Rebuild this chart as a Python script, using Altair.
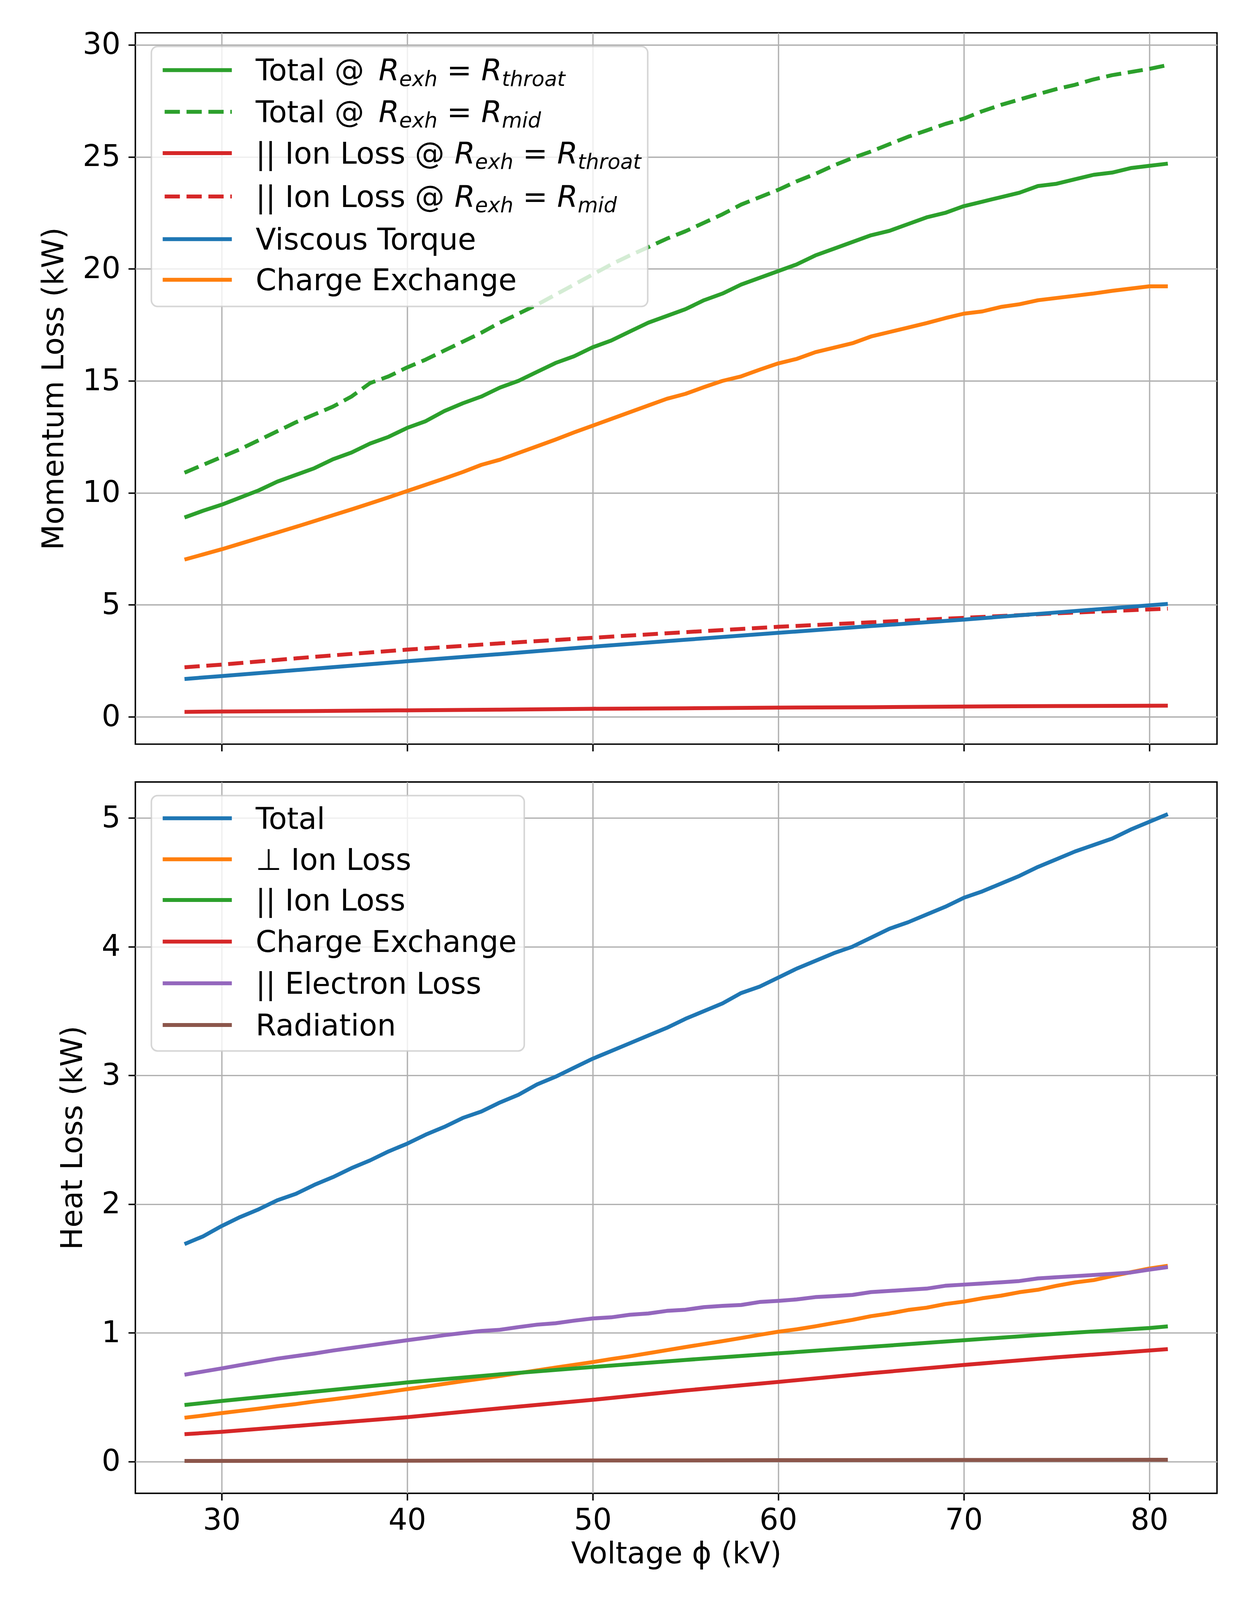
import altair as alt
import pandas as pd

# ---------------- data ----------------
V = list(range(28, 82))

# top panel: momentum loss (kW)
mom_total_throat = [8.9, 9.2, 9.47, 9.79, 10.11, 10.5, 10.8, 11.1, 11.5, 11.8, 12.2, 12.5, 12.9, 13.2,
                    13.65, 14.0, 14.3, 14.7, 15.0, 15.4, 15.8, 16.1, 16.5, 16.8, 17.2, 17.6, 17.9, 18.2,
                    18.6, 18.9, 19.3, 19.6, 19.9, 20.2, 20.6, 20.9, 21.2, 21.5, 21.7, 22.0, 22.3, 22.5,
                    22.8, 23.0, 23.2, 23.4, 23.7, 23.8, 24.0, 24.2, 24.3, 24.5, 24.6, 24.7]
mom_total_mid = [10.9, 11.25, 11.6, 11.95, 12.35, 12.75, 13.15, 13.5, 13.85, 14.3, 14.9, 15.2, 15.6, 15.95,
                 16.35, 16.75, 17.15, 17.6, 18.0, 18.4, 18.85, 19.3, 19.75, 20.2, 20.6, 20.97, 21.35, 21.68,
                 22.06, 22.44, 22.87, 23.2, 23.53, 23.91, 24.24, 24.62, 24.95, 25.24, 25.57, 25.9, 26.18,
                 26.47, 26.71, 27.04, 27.32, 27.56, 27.8, 28.03, 28.22, 28.46, 28.65, 28.79, 28.93, 29.1]
mom_cx = [7.02, 7.25, 7.48, 7.73, 7.98, 8.23, 8.48, 8.74, 9.0, 9.26, 9.53, 9.8, 10.08, 10.36, 10.64,
          10.93, 11.25, 11.48, 11.78, 12.08, 12.38, 12.7, 13.0, 13.3, 13.6, 13.9, 14.2, 14.42, 14.72,
          15.0, 15.2, 15.5, 15.78, 15.98, 16.28, 16.48, 16.68, 16.98, 17.18, 17.38, 17.58, 17.8, 18.0,
          18.1, 18.3, 18.42, 18.6, 18.7, 18.8, 18.9, 19.02, 19.12, 19.22, 19.22]
V_sparse = [28, 30, 35, 40, 45, 50, 55, 60, 65, 70, 75, 81]
mom_viscous = [1.69, 1.82, 2.15, 2.48, 2.8, 3.13, 3.44, 3.75, 4.05, 4.34, 4.66, 5.04]
mom_ion_mid = [2.21, 2.33, 2.68, 3.0, 3.28, 3.53, 3.78, 4.02, 4.22, 4.42, 4.62, 4.83]
mom_ion_throat = [0.22, 0.235, 0.26, 0.29, 0.32, 0.36, 0.38, 0.41, 0.43, 0.46, 0.48, 0.50]

# bottom panel: heat loss (kW)
heat_total = [1.69, 1.75, 1.83, 1.90, 1.96, 2.03, 2.08, 2.15, 2.21, 2.28, 2.34, 2.41, 2.47, 2.54,
              2.60, 2.67, 2.72, 2.79, 2.85, 2.93, 2.99, 3.06, 3.13, 3.19, 3.25, 3.31, 3.37, 3.44,
              3.50, 3.56, 3.64, 3.69, 3.76, 3.83, 3.89, 3.95, 4.00, 4.07, 4.14, 4.19, 4.25, 4.31,
              4.38, 4.43, 4.49, 4.55, 4.62, 4.68, 4.74, 4.79, 4.84, 4.91, 4.97, 5.03]
heat_perp_ion = [0.341, 0.358, 0.377, 0.394, 0.411, 0.43, 0.447, 0.467, 0.484, 0.502, 0.522, 0.542,
                 0.563, 0.583, 0.604, 0.625, 0.645, 0.665, 0.687, 0.709, 0.731, 0.752, 0.773, 0.797,
                 0.818, 0.842, 0.866, 0.89, 0.913, 0.936, 0.96, 0.985, 1.009, 1.028, 1.051, 1.077,
                 1.101, 1.13, 1.151, 1.178, 1.196, 1.224, 1.243, 1.269, 1.289, 1.316, 1.335, 1.366,
                 1.392, 1.41, 1.442, 1.471, 1.50, 1.521]
heat_electron = [0.675, 0.70, 0.724, 0.75, 0.775, 0.80, 0.82, 0.84, 0.863, 0.883, 0.903, 0.923, 0.943,
                 0.962, 0.982, 0.999, 1.015, 1.024, 1.045, 1.064, 1.075, 1.095, 1.112, 1.121, 1.141,
                 1.151, 1.171, 1.18, 1.20, 1.21, 1.217, 1.24, 1.249, 1.26, 1.278, 1.286, 1.295, 1.317,
                 1.326, 1.335, 1.344, 1.366, 1.375, 1.384, 1.393, 1.403, 1.423, 1.432, 1.441, 1.45,
                 1.459, 1.469, 1.491, 1.511]
V_sparse2 = [28, 30, 35, 40, 45, 50, 55, 60, 65, 70, 75, 80, 81]
heat_par_ion = [0.44, 0.471, 0.543, 0.615, 0.678, 0.735, 0.79, 0.841, 0.892, 0.943, 0.993, 1.038, 1.051]
heat_cx = [0.213, 0.231, 0.288, 0.345, 0.414, 0.48, 0.553, 0.619, 0.687, 0.751, 0.81, 0.863, 0.874]
V_rad = [28, 40, 50, 60, 70, 81]
heat_rad = [0.005, 0.007, 0.009, 0.011, 0.013, 0.014]

x_ticks = [30, 40, 50, 60, 70, 80]
y_ticks_top = [0, 5, 10, 15, 20, 25, 30]
y_ticks_bottom = [0, 1, 2, 3, 4, 5]

x_title = "Voltage ϕ (kV)"
y_title_top = "Momentum Loss (kW)"
y_title_bottom = "Heat Loss (kW)"

# legend labels: (prefix, subscript of second R) for math rows, plain text otherwise
top_labels = [("Total @ ", "throat"), ("Total @ ", "mid"), ("|| Ion Loss @ ", "throat"),
              ("|| Ion Loss @ ", "mid"), "Viscous Torque", "Charge Exchange"]
bottom_labels = ["Total", "⊥ Ion Loss", "|| Ion Loss", "Charge Exchange", "|| Electron Loss", "Radiation"]

BLUE, ORANGE, GREEN, RED, PURPLE, BROWN = "#1f77b4", "#ff7f0e", "#2ca02c", "#d62728", "#9467bd", "#8c564b"

# ---------------- styling ----------------
# the page is photographed from a 3200 x 4096 viewport: horizontal geometry as in
# the reference, vertical geometry scaled by KY
KY = 4096.0 / 4800.0
W, H = 2769, round(2134 * KY)
FS = 76
R_ = FS / 85.0
SUB = 0.7 * FS
SUBDY = 15 * R_
LW = 10
DASH = [39, 17]
FONT = "DejaVu Sans"

ADV = {'T': 1251, 'o': 1253, 't': 803, 'a': 1255, 'l': 569, ' ': 651, '@': 2048, '|': 690, 'I': 604,
       'n': 1298, 'L': 1141, 's': 1067, 'R': 1423, 'e': 1260, 'x': 1212, 'h': 1298, '=': 1716,
       'r': 842, 'm': 1995, 'i': 569, 'd': 1300, 'V': 1401, 'c': 1126, 'u': 1298, 'q': 1300,
       'C': 1430, 'g': 1300, 'E': 1294, '⊥': 1716, 'D': 1577}


def adv(s, size):
    return sum(ADV.get(c, 1250) for c in s) / 2048.0 * size


def series_layer(xs, ys, color, dashed, xscale, yscale, xaxis, yaxis):
    kw = dict(color=color, strokeWidth=LW, strokeJoin="round", strokeCap="butt")
    if dashed:
        kw["strokeDash"] = DASH
    df = pd.DataFrame({"x": xs, "y": ys})
    return alt.Chart(df).mark_line(**kw).encode(
        x=alt.X("x:Q", scale=xscale, axis=xaxis),
        y=alt.Y("y:Q", scale=yscale, axis=yaxis),
    )


def legend_layers(labels, colors, dashes, rows, frame_y):
    text_x, h_x1, h_x2 = 308, 70, 247
    solid_rows, dash_rows, norm, ital = [], [], [], []
    text_end = 0
    for lab, col, dsh, ry in zip(labels, colors, dashes, rows):
        ry = ry * KY
        rec = {"x1": h_x1, "x2": h_x2, "y": ry, "c": col}
        (dash_rows if dsh else solid_rows).append(rec)
        base = ry + 0.353 * FS
        if isinstance(lab, tuple):
            prefix, sub2 = lab
            norm.append({"t": prefix.strip(), "px": text_x, "py": base, "s": FS})
            x = text_x + adv(prefix, FS)
            ital.append({"t": "R", "px": x, "py": base, "s": FS}); x += adv("R", FS)
            ital.append({"t": "exh", "px": x, "py": base + SUBDY, "s": SUB}); x += adv("exh", SUB)
            x += adv(" ", FS)
            norm.append({"t": "=", "px": x, "py": base, "s": FS}); x += adv("=", FS) + adv(" ", FS)
            ital.append({"t": "R", "px": x, "py": base, "s": FS}); x += adv("R", FS)
            ital.append({"t": sub2, "px": x, "py": base + SUBDY, "s": SUB}); x += adv(sub2, SUB)
        else:
            norm.append({"t": lab, "px": text_x, "py": base, "s": FS})
            x = text_x + adv(lab, FS)
        text_end = max(text_end, x)

    one = pd.DataFrame({"a": [0]})
    frame = alt.Chart(one).mark_rect(
        fill="white", fillOpacity=0.8, stroke="#cccccc", strokeOpacity=0.8,
        strokeWidth=4, cornerRadius=16
    ).encode(x=alt.value(41), x2=alt.value(text_end + 0.22 * FS),
             y=alt.value(frame_y[0] * KY), y2=alt.value(frame_y[1] * KY))

    layers = [frame]

    def rules(rows_, extra):
        return alt.Chart(pd.DataFrame(rows_)).mark_rule(strokeWidth=LW, strokeCap="butt", **extra).encode(
            x=alt.X("x1:Q", scale=None, axis=None), x2="x2:Q",
            y=alt.Y("y:Q", scale=None, axis=None),
            color=alt.Color("c:N", scale=None, legend=None))

    if solid_rows:
        layers.append(rules(solid_rows, {}))
    if dash_rows:
        layers.append(rules(dash_rows, {"strokeDash": DASH, "strokeDashOffset": 51}))

    def texts(rows_, style):
        return alt.Chart(pd.DataFrame(rows_)).mark_text(
            align="left", baseline="alphabetic", font=FONT, fontStyle=style, color="black"
        ).encode(
            x=alt.X("px:Q", scale=None, axis=None), y=alt.Y("py:Q", scale=None, axis=None),
            text="t:N", size=alt.Size("s:Q", scale=None, legend=None))

    layers.append(texts(norm, "normal"))
    if ital:
        layers.append(texts(ital, "italic"))
    return layers


xscale = alt.Scale(domain=[25.35, 83.65], nice=False, zero=False)

# ---------- top panel ----------
ys_top = alt.Scale(domain=[-1.22, 30.54], nice=False, zero=False)
xa_top = alt.Axis(values=x_ticks, labels=False, title=None, ticks=True, grid=True, minExtent=0)
ya_top = alt.Axis(values=y_ticks_top, title=y_title_top, titlePadding=33.7, labelPadding=20.5)

top_series = [
    (V, mom_total_throat, GREEN, False),
    (V, mom_total_mid, GREEN, True),
    (V_sparse, mom_ion_throat, RED, False),
    (V_sparse, mom_ion_mid, RED, True),
    (V_sparse, mom_viscous, BLUE, False),
    (V, mom_cx, ORANGE, False),
]
top_layers = [series_layer(a, b, c, d, xscale, ys_top, xa_top, ya_top) for a, b, c, d in top_series]
top_layers += legend_layers(top_labels, [GREEN, GREEN, RED, RED, BLUE, ORANGE],
                            [False, True, False, True, False, False],
                            [112, 237, 361, 491, 619, 741], (41, 821))
top = alt.layer(*top_layers).properties(width=W, height=H)

# ---------- bottom panel ----------
ys_bot = alt.Scale(domain=[-0.246, 5.28], nice=False, zero=False)
xa_bot = alt.Axis(values=x_ticks, title=x_title, titlePadding=10.4, labelPadding=15, grid=True)
ya_bot = alt.Axis(values=y_ticks_bottom, title=y_title_bottom, titlePadding=33.7, labelPadding=20.5)

bot_series = [
    (V, heat_total, BLUE, False),
    (V, heat_perp_ion, ORANGE, False),
    (V_sparse2, heat_par_ion, GREEN, False),
    (V_sparse2, heat_cx, RED, False),
    (V, heat_electron, PURPLE, False),
    (V_rad, heat_rad, BROWN, False),
]
bot_layers = [series_layer(a, b, c, d, xscale, ys_bot, xa_bot, ya_bot) for a, b, c, d in bot_series]
bot_layers += legend_layers(bottom_labels, [BLUE, ORANGE, GREEN, RED, PURPLE, BROWN],
                            [False] * 6, [109, 232, 354, 479, 604, 729], (41, 807))
bottom = alt.layer(*bot_layers).properties(width=W, height=H)

chart = alt.vconcat(top, bottom, spacing=72.8).properties(
    padding={"left": 90.5, "top": 67, "right": 8, "bottom": 8},
    background="white",
).configure_view(
    stroke="black", strokeWidth=3.7
).configure_axis(
    labelFont=FONT, labelFontSize=FS, labelColor="black", labelOverlap=False,
    labelFlush=False,
    titleFont=FONT, titleFontSize=FS, titleFontWeight="normal", titleColor="black",
    tickColor="black", tickWidth=3.7, tickSize=18,
    gridColor="#b0b0b0", gridWidth=3.3, domain=False,
)

chart.save("out.html", embed_options={"renderer": "svg", "actions": False})
